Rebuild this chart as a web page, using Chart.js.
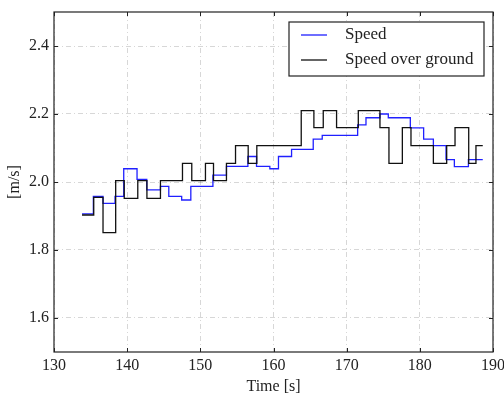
<!DOCTYPE html>
<html>
<head>
<meta charset="utf-8">
<title>Speed</title>
<script src="https://cdn.jsdelivr.net/npm/chart.js@4.4.1/dist/chart.umd.min.js"></script>
<style>
  html, body { margin: 0; padding: 0; background: #fff; }
  #wrap { width: 504px; height: 396px; }
</style>
</head>
<body>
<div id="wrap"><canvas id="speedChart" width="504" height="396"></canvas></div>
<script>
// step times [s] and values [m/s]
const speedTime = [133.83, 135.38, 136.70, 138.34, 139.53, 141.35, 142.68, 144.55, 145.69, 147.45,
    148.70, 151.72, 153.57, 156.50, 157.68, 159.50, 160.68, 162.47, 165.43, 166.66,
    171.50, 172.64, 174.55, 175.69, 178.70, 180.52, 181.85, 183.58, 184.72, 186.64, 188.60];
const speed = [1.906, 1.958, 1.937, 1.958, 2.039, 2.008, 1.977, 1.987, 1.958, 1.947,
    1.987, 2.020, 2.046, 2.075, 2.046, 2.039, 2.075, 2.096, 2.126, 2.137,
    2.168, 2.189, 2.200, 2.189, 2.159, 2.126, 2.107, 2.066, 2.045, 2.066, 2.066];

const sogTime = [133.83, 135.43, 136.70, 138.43, 139.60, 141.45, 142.70, 144.55, 147.56, 148.83,
    150.70, 151.80, 153.57, 154.81, 156.54, 157.72, 163.79, 165.52, 166.80, 168.62,
    171.59, 174.55, 175.78, 177.61, 178.79, 181.85, 183.67, 184.81, 186.68, 187.67, 188.60];
const sog = [1.903, 1.955, 1.851, 2.004, 1.952, 2.004, 1.952, 2.004, 2.055, 2.004,
    2.055, 2.004, 2.055, 2.107, 2.055, 2.107, 2.210, 2.160, 2.210, 2.160,
    2.210, 2.160, 2.055, 2.160, 2.107, 2.055, 2.107, 2.160, 2.055, 2.107, 2.107];

const xTicks = [130, 140, 150, 160, 170, 180, 190];
const yTicks = [1.6, 1.8, 2.0, 2.2, 2.4];

const serif = "'Liberation Serif', 'DejaVu Serif', serif";
Chart.defaults.font.family = serif;
Chart.defaults.color = '#222';

function toPoints(xs, ys) {
    return xs.map((x, i) => ({ x: x, y: ys[i] }));
}

// box around the axes plus small inward ticks on every side
const framePlugin = {
    id: 'frame',
    afterDatasetsDraw(chart) {
        const { ctx, chartArea: a, scales } = chart;
        ctx.save();
        ctx.strokeStyle = '#222';
        ctx.lineWidth = 1;
        ctx.beginPath();
        xTicks.forEach(v => {
            const px = Math.round(scales.x.getPixelForValue(v)) + 0.5;
            ctx.moveTo(px, a.bottom); ctx.lineTo(px, a.bottom - 4);
            ctx.moveTo(px, a.top); ctx.lineTo(px, a.top + 4);
        });
        yTicks.forEach(v => {
            const py = Math.round(scales.y.getPixelForValue(v)) + 0.5;
            ctx.moveTo(a.left, py); ctx.lineTo(a.left + 4, py);
            ctx.moveTo(a.right, py); ctx.lineTo(a.right - 4, py);
        });
        ctx.stroke();
        ctx.lineWidth = 1.2;
        ctx.strokeRect(a.left, a.top, a.right - a.left, a.bottom - a.top);
        ctx.restore();
    }
};

// boxed legend in the upper right corner
const legendPlugin = {
    id: 'boxLegend',
    afterDraw(chart) {
        const { ctx, chartArea: a } = chart;
        const w = 195, h = 54;
        const x0 = a.right - 9 - w, y0 = a.top + 10;
        ctx.save();
        ctx.fillStyle = '#fff';
        ctx.fillRect(x0, y0, w, h);
        ctx.strokeStyle = '#222';
        ctx.lineWidth = 1.2;
        ctx.strokeRect(x0, y0, w, h);
        ctx.font = '17px ' + serif;
        ctx.textBaseline = 'middle';
        chart.data.datasets.forEach((ds, i) => {
            const y = y0 + 13 + i * 25;
            ctx.strokeStyle = ds.borderColor;
            ctx.lineWidth = ds.borderWidth;
            ctx.beginPath();
            ctx.moveTo(x0 + 12, y);
            ctx.lineTo(x0 + 38, y);
            ctx.stroke();
            ctx.fillStyle = '#222';
            ctx.fillText(ds.label, x0 + 56, y);
        });
        ctx.restore();
    }
};

const data = {
    datasets: [{
        label: 'Speed',
        data: toPoints(speedTime, speed),
        borderColor: '#2020ff',
        borderWidth: 1.3,
        stepped: true,
        pointRadius: 0,
        order: 1
    }, {
        label: 'Speed over ground',
        data: toPoints(sogTime, sog),
        borderColor: '#111',
        borderWidth: 1.3,
        stepped: true,
        pointRadius: 0,
        order: 0
    }]
};

const gridStyle = { color: 'rgba(0,0,0,0.2)', lineWidth: 0.8, drawTicks: false };

const config = {
    type: 'line',
    data: data,
    options: {
        responsive: false,
        animation: false,
        layout: { padding: { top: 12, right: 11, bottom: 0, left: 0 } },
        plugins: {
            legend: { display: false },
            tooltip: { enabled: false }
        },
        scales: {
            x: {
                type: 'linear',
                min: 130,
                max: 190,
                afterBuildTicks: s => { s.ticks = xTicks.map(v => ({ value: v })); },
                afterFit: s => { s.height = 44; s.paddingLeft = 0; s.paddingRight = 0; },
                ticks: {
                    padding: 4,
                    maxRotation: 0,
                    font: { size: 16 },
                    callback: v => String(v)
                },
                grid: gridStyle,
                border: { display: false, dash: [5, 3, 1, 3] },
                title: {
                    display: true,
                    text: 'Time [s]',
                    font: { size: 16 },
                    padding: { top: 0, bottom: 0 }
                }
            },
            y: {
                min: 1.5,
                max: 2.5,
                afterBuildTicks: s => { s.ticks = yTicks.map(v => ({ value: v })); },
                afterFit: s => { s.width = 54; s.paddingTop = 0; s.paddingBottom = 0; },
                ticks: {
                    padding: 5,
                    font: { size: 16 },
                    callback: v => v.toFixed(1)
                },
                grid: gridStyle,
                border: { display: false, dash: [5, 3, 1, 3] },
                title: {
                    display: true,
                    text: '[m/s]',
                    font: { size: 16 },
                    padding: { top: 5, bottom: 0 }
                }
            }
        }
    },
    plugins: [framePlugin, legendPlugin]
};

const speedChart = new Chart(document.getElementById('speedChart'), config);
</script>
</body>
</html>
